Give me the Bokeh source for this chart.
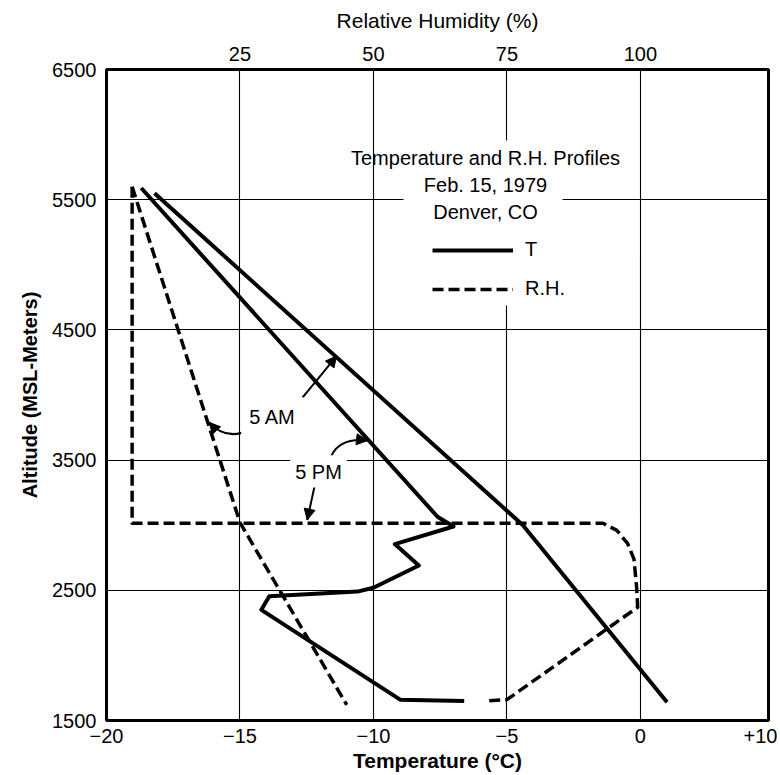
import numpy as np
from bokeh.plotting import figure
from bokeh.models import (Range1d, LinearAxis, FixedTicker, Label, BoxAnnotation,
                          Arrow, NormalHead, Legend, LegendItem)
from bokeh.embed import file_html
from bokeh.resources import INLINE

# ---------------- data ----------------
temp_ticks = [-20, -15, -10, -5, 0, 4.5]
temp_tick_labels = ["\u221220", "\u221215", "\u221210", "\u22125", "0", "+10"]
rh_ticks = [25, 50, 75, 100]
alt_ticks = [1500, 2500, 3500, 4500, 5500, 6500]

# temperature profiles (deg C vs altitude m)
t_5am = [-18.2, -4.4, 1.0]
alt_t_5am = [5550, 3000, 1640]

t_5pm = [-18.7, -7.6, -7.0, -9.2, -8.3, -10.0, -10.6, -13.9, -14.2, -9.0, -6.6]
alt_t_5pm = [5590, 3065, 2990, 2855, 2690, 2520, 2490, 2455, 2350, 1660, 1650]

# relative humidity profiles (% vs altitude m)
rh_5am = [4.8, 25.0, 45.0]
alt_rh_5am = [5600, 3020, 1620]

rh_5pm = [4.8, 4.8, 93.0, 95.6, 97.6, 98.8, 99.3, 99.5, 75.0, 71.2]
alt_rh_5pm = [5600, 3015, 3015, 2960, 2860, 2740, 2520, 2370, 1660, 1650]

FONT = "Liberation Sans"

# ---------------- layout helpers (image px -> data) ----------------
X0, X1, Y0, Y1 = 106, 768, 720, 69
T_MIN, T_MAX, A_MIN, A_MAX = -20.0, 4.8, 1500.0, 6500.0


def X(px):
    return T_MIN + (px - X0) * (T_MAX - T_MIN) / (X1 - X0)


def Y(py):
    return A_MIN + (Y0 - py) * (A_MAX - A_MIN) / (Y0 - Y1)


def rh_to_t(rh):
    return rh / 5.0 - 20.0


p = figure(width=780, height=775,
           x_range=Range1d(T_MIN, T_MAX), y_range=Range1d(A_MIN, A_MAX),
           output_backend="svg", toolbar_location=None,
           min_border_left=106, min_border_right=12, min_border_top=69, min_border_bottom=55,
           background_fill_color="white", border_fill_color="white")
p.outline_line_color = "black"
p.outline_line_width = 3
p.extra_x_ranges = {"rh": Range1d(0, 5 * (T_MAX - T_MIN))}


def style_axis(ax, size="20px"):
    ax.axis_line_color = None
    ax.major_tick_in = 0
    ax.major_tick_out = 0
    ax.minor_tick_line_color = None
    ax.major_label_text_font = FONT
    ax.major_label_text_font_size = size
    ax.major_label_text_color = "black"
    ax.axis_label_text_font = FONT
    ax.axis_label_text_color = "black"


xa = p.xaxis[0]
style_axis(xa)
xa.ticker = FixedTicker(ticks=temp_ticks)
xa.major_label_overrides = dict(zip(temp_ticks, temp_tick_labels))
xa.axis_label = "Temperature (°C)"
xa.axis_label_text_font_style = "bold"
xa.axis_label_text_font_size = "21px"
xa.major_label_standoff = 8
xa.axis_label_standoff = 3

ya = p.yaxis[0]
style_axis(ya)
ya.ticker = FixedTicker(ticks=alt_ticks)
ya.axis_label = "Altitude (MSL-Meters)"
ya.axis_label_text_font_style = "bold"
ya.axis_label_text_font_size = "20px"
ya.major_label_standoff = 10
ya.axis_label_standoff = 8

top = LinearAxis(x_range_name="rh", ticker=FixedTicker(ticks=rh_ticks),
                 axis_label="Relative Humidity (%)")
style_axis(top)
top.axis_label_text_font_style = "normal"
top.axis_label_text_font_size = "21px"
top.major_label_standoff = 9
top.axis_label_standoff = 12
p.add_layout(top, "above")

p.xgrid.ticker = FixedTicker(ticks=[-15, -10, -5, 0])
p.ygrid.ticker = FixedTicker(ticks=[2500, 3500, 4500, 5500])
for g in (p.xgrid, p.ygrid):
    g.grid_line_color = "black"
    g.grid_line_width = 1.1

# ---------------- curves ----------------
r_t_am = p.line(t_5am, alt_t_5am, line_width=4, line_color="black", line_join="round")
r_t_pm = p.line(t_5pm, alt_t_5pm, line_width=4, line_color="black", line_join="round")
r_rh_am = p.line(rh_5am, alt_rh_5am, x_range_name="rh", line_width=3.5,
                 line_color="black", line_dash="11 5")
r_rh_pm = p.line(rh_5pm, alt_rh_5pm, x_range_name="rh", line_width=3.5,
                 line_color="black", line_dash="11 5", line_join="round")

# ---------------- title block with white backing ----------------
p.add_layout(BoxAnnotation(left=X(403), right=X(562), top=Y(140), bottom=Y(305),
                           fill_color="white", fill_alpha=1.0, line_color=None))
for txt, py in [("Temperature and R.H. Profiles", 157),
                ("Feb. 15, 1979", 184.5),
                ("Denver, CO", 211)]:
    p.add_layout(Label(x=X(485), y=Y(py), text=txt, text_align="center",
                       text_baseline="middle", text_font=FONT,
                       text_font_size="20px", text_color="black"))

legend = Legend(items=[LegendItem(label="T", renderers=[r_t_am]),
                       LegendItem(label="R.H.", renderers=[r_rh_am])],
                location=(326, 420), glyph_width=81, glyph_height=20,
                label_height=20, label_standoff=12, spacing=16,
                padding=0, margin=0, border_line_color=None,
                background_fill_alpha=0, label_text_font=FONT,
                label_text_font_size="20px", label_text_color="black")
p.add_layout(legend, "center")

# ---------------- 5 AM / 5 PM annotations ----------------
p.add_layout(Label(x=X(272), y=Y(416), text="5 AM", text_align="center",
                   text_baseline="middle", text_font=FONT, text_font_size="20px",
                   text_color="black", background_fill_color="white", padding=8))
p.add_layout(Label(x=X(318), y=Y(471), text="5 PM", text_align="center",
                   text_baseline="middle", text_font=FONT, text_font_size="20px",
                   text_color="black", background_fill_color="white", padding=5))

# arrow tips lie on the curves
a1_alt = 4290.0
a1_t = float(np.interp(a1_alt, alt_t_5am[::-1], t_5am[::-1]))
a2_alt = 3790.0
a2_t = rh_to_t(float(np.interp(a2_alt, alt_rh_5am[::-1], rh_5am[::-1])))
a3_alt = 3650.0
a3_t = float(np.interp(a3_alt, [alt_t_5pm[1], alt_t_5pm[0]], [t_5pm[1], t_5pm[0]]))
a4_rh = 37.6
a4_t = rh_to_t(a4_rh)
a4_alt = alt_rh_5pm[1] + 25

arrows = [
    # (tail px), (control px), tip data
    ((302, 397), (318, 378), (a1_t, a1_alt + 10)),
    ((250, 429), (226, 441), (a2_t + 0.05, a2_alt)),
    ((331, 455), (340, 437), (a3_t - 0.05, a3_alt)),
    ((314, 486), (311, 500), (a4_t, a4_alt)),
]
x0s, y0s, cxs, cys, x1s, y1s = [], [], [], [], [], []
for (tx_, ty_), (cx_, cy_), (ex, ey) in arrows:
    x0s.append(X(tx_)); y0s.append(Y(ty_))
    cxs.append(X(cx_)); cys.append(Y(cy_))
    x1s.append(ex); y1s.append(ey)
    p.add_layout(Arrow(x_start=X(cx_), y_start=Y(cy_), x_end=ex, y_end=ey,
                       line_color=None,
                       end=NormalHead(size=11, fill_color="black",
                                      line_color="black", line_width=1)))
p.quadratic(x0=x0s, y0=y0s, x1=x1s, y1=y1s, cx=cxs, cy=cys,
            line_color="black", line_width=2)

open("out.html", "w").write(file_html(p, INLINE))
